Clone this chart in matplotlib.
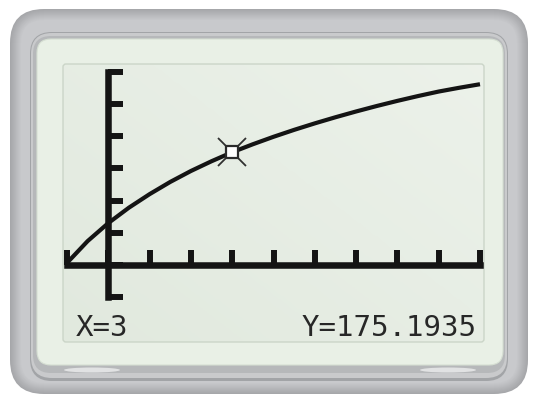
"""
Graphing-calculator style trace screen: window -1..9 by -50..300,
curve with the trace cursor parked at X=3.
"""
import matplotlib

matplotlib.use("Agg")
import matplotlib.pyplot as plt
import numpy as np
from matplotlib.colors import LinearSegmentedColormap, to_rgb
from matplotlib.patches import Ellipse, FancyBboxPatch

# traced curve, sampled every half unit
x_vals = [-1, -0.5, 0, 0.5, 1, 1.5, 2, 2.5, 3, 3.5, 4, 4.5,
          5, 5.5, 6, 6.5, 7, 7.5, 8, 8.5, 9]
y_vals = [3, 37, 65, 89, 110, 129, 146, 161.2, 175.1935, 187.6, 199.2, 210,
          220.1, 229.6, 238.6, 247.1, 255.1, 262.6, 269.6, 275.5, 281]

# trace cursor
cursor_x = 3
cursor_y = 175.1935

# window settings
x_min, x_max, x_scl = -1, 9, 1
y_min, y_max, y_scl = -50, 300, 50

W, H = 537, 401
INK = "#141414"


def mix(c1, c2, t):
    a, b = np.array(to_rgb(c1)), np.array(to_rgb(c2))
    return tuple(a + (b - a) * t)


def rbox(ax, x0, y0, x1, y1, r, **kw):
    p = FancyBboxPatch((x0 + r, y0 + r), x1 - x0 - 2 * r, y1 - y0 - 2 * r,
                       boxstyle=f"round,pad={r},rounding_size={r}", **kw)
    ax.add_patch(p)
    return p


fig = plt.figure(figsize=(W / 100, H / 100), dpi=100)
fig.patch.set_facecolor("white")

# --- calculator body drawn in pixel coordinates ---
bg = fig.add_axes([0, 0, 1, 1])
bg.set_xlim(0, W)
bg.set_ylim(H, 0)
bg.axis("off")

# grey bezel, darker toward its outer rim
steps = 12
for i in range(steps):
    t = i / (steps - 1)
    rbox(bg, 10 + i, 9 + i, 528 - i, 394 - i, max(34 - i, 4),
         fc=mix("#a6a7aa", "#c8c9cc", t), ec="none")

# chrome ring round the screen frame
rbox(bg, 30, 32, 508, 381, 22, fc="#a2a4a7", ec="none")
rbox(bg, 31, 33, 507, 378, 21, fc="#c9cacc", ec="none")
rbox(bg, 33, 36, 505, 373, 18, fc="#b6b8ba", ec="none")
for cx in (92, 448):
    bg.add_patch(Ellipse((cx, 370), 56, 5, fc="white", ec="none", alpha=0.6))

# pale frame around the display
rbox(bg, 37, 39, 503, 365, 14, fc="#e9f0e6", ec="#d6dfd3", lw=0.8)

# display glass with a soft light gradient
gx, gy = np.meshgrid(np.linspace(0, 1, 200), np.linspace(0, 1, 150))
shade = 0.35 * (1 - gx) + 0.3 * gy + 0.1
glass = LinearSegmentedColormap.from_list("glass", ["#eef3ec", "#e1e9de"])
screen = rbox(bg, 63, 64, 484, 342, 3, fc="none", ec="#cbd5c8", lw=1.0)
im = bg.imshow(shade, cmap=glass, extent=(63, 484, 342, 64), aspect="auto",
               interpolation="bilinear", vmin=0, vmax=0.75, zorder=1)
im.set_clip_path(screen)
screen.set_zorder(2)

# --- graph window ---
ax = fig.add_axes([67 / W, 1 - 297 / H, 413 / W, 225 / H])
ax.set_xlim(x_min, x_max)
ax.set_ylim(y_min, y_max)
ax.patch.set_alpha(0)
for side in ("top", "right"):
    ax.spines[side].set_visible(False)
for side in ("left", "bottom"):
    ax.spines[side].set_position(("data", 0))
    ax.spines[side].set_linewidth(4.7)
    ax.spines[side].set_color(INK)
ax.set_xticks(np.arange(x_min, x_max + x_scl / 2, x_scl))
ax.set_yticks(np.arange(y_min, y_max + y_scl / 2, y_scl))
ax.tick_params(direction="in", length=11, width=4.3, color=INK,
               labelbottom=False, labelleft=False)

ax.plot(x_vals, y_vals, color=INK, lw=3.0, solid_capstyle="butt",
        solid_joinstyle="round", clip_on=False, zorder=3)

# trace cursor: hollow box with corner whiskers
ax.plot(cursor_x, cursor_y, marker="x", ms=20, mew=1.3, color="#303030",
        zorder=4, clip_on=False)
ax.plot(cursor_x, cursor_y, marker="s", ms=9, mfc="white", mec="#2b2b2b",
        mew=1.6, zorder=5, clip_on=False)

# readout line
txt = dict(family="DejaVu Sans Mono", fontsize=21, color="#272727",
           va="baseline")
fig.text(76 / W, 1 - 336 / H, f"X={cursor_x}", ha="left", **txt)
fig.text(477 / W, 1 - 336 / H, f"Y={cursor_y:.4f}", ha="right", **txt)

fig.savefig("out.png", dpi=100)
